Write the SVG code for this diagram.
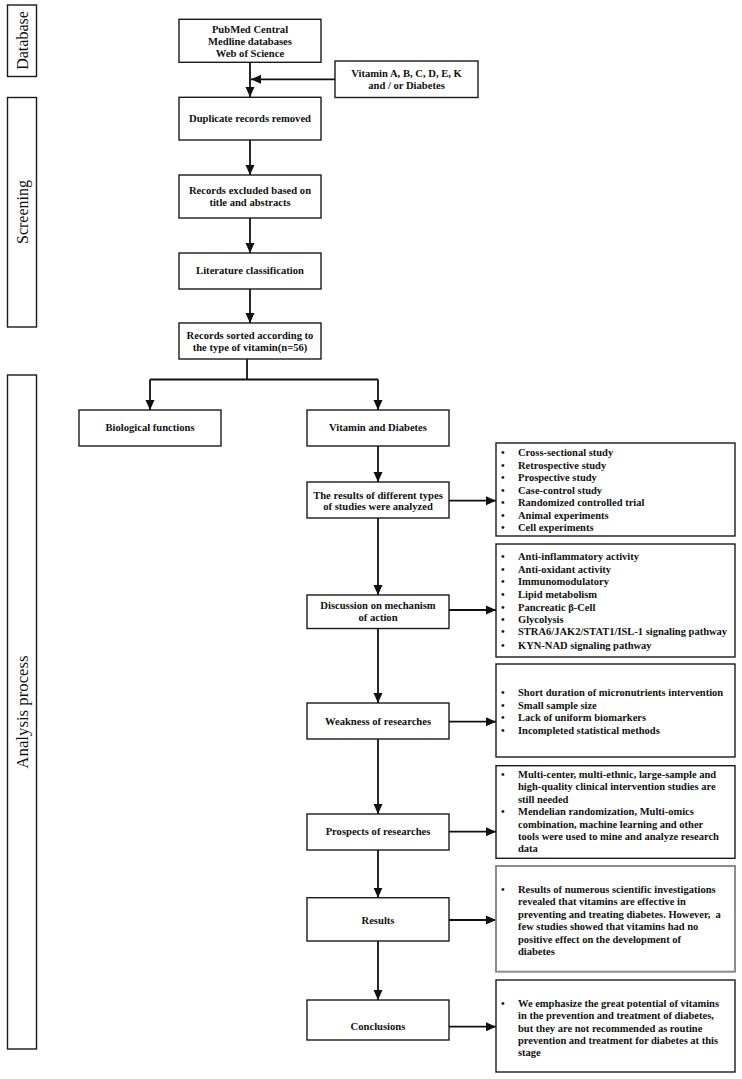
<svg xmlns="http://www.w3.org/2000/svg" width="742" height="1079" viewBox="0 0 742 1079">
<style>
.bg{fill:#ffffff}
.box{fill:#ffffff;stroke:#1a1a1a;stroke-width:1.4}
.gbox{fill:#ffffff;stroke:#8c8c8c;stroke-width:2}
.lab{font-family:"Liberation Serif","Times New Roman",serif;font-size:16px;fill:#111}
.t{font-family:"Liberation Serif","Times New Roman",serif;font-size:10.6px;font-weight:bold;fill:#111;text-anchor:middle}
.l{font-family:"Liberation Serif","Times New Roman",serif;font-size:10.5px;font-weight:bold;fill:#111}
.c{fill:none;stroke:#111;stroke-width:1.8}
</style>
<defs>
<marker id="ah" markerUnits="userSpaceOnUse" markerWidth="10" markerHeight="10" viewBox="0 0 10 10" refX="10" refY="5" orient="auto">
<path d="M0,0.5 L10,5 L0,9.5 Z" fill="#111"/>
</marker>
</defs>
<rect class="bg" x="0" y="0" width="742" height="1079"/>

<g id="stage-database">
<rect class="box" x="7.5" y="5" width="29" height="71.5"/>
<text class="lab" transform="translate(27.5,40.5) rotate(-90)" text-anchor="middle">Database</text>
</g>
<g id="stage-screening">
<rect class="box" x="7.5" y="97.5" width="29" height="229.5"/>
<text class="lab" transform="translate(27.5,212) rotate(-90)" text-anchor="middle">Screening</text>
</g>
<g id="stage-analysis">
<rect class="box" x="7.5" y="375" width="29" height="674"/>
<text class="lab" style="font-size:16.8px" transform="translate(27.5,712) rotate(-90)" text-anchor="middle">Analysis process</text>
</g>

<g id="connectors">
<path class="c" d="M250,62.5 V97" marker-end="url(#ah)"/>
<path class="c" d="M335,79.3 H251" marker-end="url(#ah)"/>
<path class="c" d="M250,140 V175" marker-end="url(#ah)"/>
<path class="c" d="M250,218 V253" marker-end="url(#ah)"/>
<path class="c" d="M250,289 V323" marker-end="url(#ah)"/>
<path class="c" d="M247,359 V379.5"/>
<path class="c" d="M150,379.5 H378"/>
<path class="c" d="M150,379.5 V410" marker-end="url(#ah)"/>
<path class="c" d="M378,379.5 V410" marker-end="url(#ah)"/>
<path class="c" d="M378,446 V482" marker-end="url(#ah)"/>
<path class="c" d="M449,500.7 H496" marker-end="url(#ah)"/>
<path class="c" d="M378,518 V595" marker-end="url(#ah)"/>
<path class="c" d="M449,610 H496" marker-end="url(#ah)"/>
<path class="c" d="M378,628 V703" marker-end="url(#ah)"/>
<path class="c" d="M449,721.7 H496" marker-end="url(#ah)"/>
<path class="c" d="M378,739 V814" marker-end="url(#ah)"/>
<path class="c" d="M449,831.7 H496" marker-end="url(#ah)"/>
<path class="c" d="M378,850 V897.7" marker-end="url(#ah)"/>
<path class="c" d="M449,920 H496" marker-end="url(#ah)"/>
<path class="c" d="M378,941 V1000" marker-end="url(#ah)"/>
<path class="c" d="M449,1026.7 H496" marker-end="url(#ah)"/>
</g>

<g id="n-databases">
<rect class="box" x="179" y="19.3" width="142" height="43"/>
<text class="t" x="250" y="33">PubMed Central</text>
<text class="t" x="250" y="45.3">Medline databases</text>
<text class="t" x="250" y="57">Web of Science</text>
</g>
<g id="n-keywords">
<rect class="box" x="335" y="61" width="143" height="36.5"/>
<text class="t" x="406.5" y="77">Vitamin A, B, C, D, E, K</text>
<text class="t" x="406.5" y="89.3">and / or Diabetes</text>
</g>
<g id="n-duplicate">
<rect class="box" x="179" y="97.3" width="142" height="42.7"/>
<text class="t" x="250" y="122">Duplicate records removed</text>
</g>
<g id="n-excluded">
<rect class="box" x="179" y="175" width="142" height="43"/>
<text class="t" x="250" y="193.7">Records excluded based on</text>
<text class="t" x="250" y="206">title and abstracts</text>
</g>
<g id="n-classification">
<rect class="box" x="179" y="253" width="142" height="36"/>
<text class="t" x="250" y="273.7">Literature classification</text>
</g>
<g id="n-sorted">
<rect class="box" x="179" y="323" width="142" height="36"/>
<text class="t" x="250" y="339.4">Records sorted according to</text>
<text class="t" x="250" y="351.4">the type of vitamin(n=56)</text>
</g>
<g id="n-biological">
<rect class="box" x="79" y="410" width="142" height="36"/>
<text class="t" x="150" y="431.4">Biological functions</text>
</g>
<g id="n-vitdiab">
<rect class="box" x="307" y="410" width="142" height="36"/>
<text class="t" x="378" y="431.4">Vitamin and Diabetes</text>
</g>
<g id="n-studies">
<rect class="box" x="307" y="482" width="142" height="36"/>
<text class="t" x="378" y="498.7">The results of different types</text>
<text class="t" x="378" y="510.4">of studies were analyzed</text>
</g>
<g id="n-mechanism">
<rect class="box" x="307" y="595" width="142" height="33.5"/>
<text class="t" x="378" y="608.7">Discussion on mechanism</text>
<text class="t" x="378" y="621.4">of action</text>
</g>
<g id="n-weakness">
<rect class="box" x="307" y="703" width="142" height="36"/>
<text class="t" x="378" y="725.4">Weakness of researches</text>
</g>
<g id="n-prospects">
<rect class="box" x="307" y="814" width="142" height="36"/>
<text class="t" x="378" y="835.4">Prospects of researches</text>
</g>
<g id="n-results">
<rect class="box" x="307" y="897.7" width="142" height="43.3"/>
<text class="t" x="378" y="923.7">Results</text>
</g>
<g id="n-conclusions">
<rect class="box" x="307" y="1000" width="142" height="40"/>
<text class="t" x="378" y="1030.4">Conclusions</text>
</g>

<g id="list-studies">
<rect class="box" x="496" y="443" width="239" height="93"/>
<text class="l" x="501" y="456">•</text><text class="l" x="518" y="456">Cross-sectional study</text>
<text class="l" x="501" y="468.7">•</text><text class="l" x="518" y="468.7">Retrospective study</text>
<text class="l" x="501" y="481">•</text><text class="l" x="518" y="481">Prospective study</text>
<text class="l" x="501" y="493.7">•</text><text class="l" x="518" y="493.7">Case-control study</text>
<text class="l" x="501" y="506">•</text><text class="l" x="518" y="506">Randomized controlled trial</text>
<text class="l" x="501" y="518.7">•</text><text class="l" x="518" y="518.7">Animal experiments</text>
<text class="l" x="501" y="531.4">•</text><text class="l" x="518" y="531.4">Cell experiments</text>
</g>
<g id="list-mechanism">
<rect class="box" x="496" y="544" width="239" height="113"/>
<text class="l" x="501" y="560.4">•</text><text class="l" x="518" y="560.4">Anti-inflammatory activity</text>
<text class="l" x="501" y="573">•</text><text class="l" x="518" y="573">Anti-oxidant activity</text>
<text class="l" x="501" y="585.4">•</text><text class="l" x="518" y="585.4">Immunomodulatory</text>
<text class="l" x="501" y="598">•</text><text class="l" x="518" y="598">Lipid metabolism</text>
<text class="l" x="501" y="611">•</text><text class="l" x="518" y="611">Pancreatic β-Cell</text>
<text class="l" x="501" y="622.7">•</text><text class="l" x="518" y="622.7">Glycolysis</text>
<text class="l" x="501" y="635.4">•</text><text class="l" x="518" y="635.4">STRA6/JAK2/STAT1/ISL-1 signaling pathway</text>
<text class="l" x="501" y="648.7">•</text><text class="l" x="518" y="648.7">KYN-NAD signaling pathway</text>
</g>
<g id="list-weakness">
<rect class="box" x="496" y="664" width="239" height="93"/>
<text class="l" x="501" y="696">•</text><text class="l" x="518" y="696">Short duration of micronutrients intervention</text>
<text class="l" x="501" y="708.7">•</text><text class="l" x="518" y="708.7">Small sample size</text>
<text class="l" x="501" y="721">•</text><text class="l" x="518" y="721">Lack of uniform biomarkers</text>
<text class="l" x="501" y="733.7">•</text><text class="l" x="518" y="733.7">Incompleted statistical methods</text>
</g>
<g id="list-prospects">
<rect class="box" x="496" y="765.7" width="239" height="92.6"/>
<text class="l" x="501" y="778">•</text><text class="l" x="518" y="778">Multi-center, multi-ethnic, large-sample and</text>
<text class="l" x="518" y="790.4">high-quality clinical intervention studies are</text>
<text class="l" x="518" y="803">still needed</text>
<text class="l" x="501" y="815.4">•</text><text class="l" x="518" y="815.4">Mendelian randomization, Multi-omics</text>
<text class="l" x="518" y="827.7">combination, machine learning and other</text>
<text class="l" x="518" y="840.4">tools were used to mine and analyze research</text>
<text class="l" x="518" y="852">data</text>
</g>
<g id="list-results">
<rect class="gbox" x="496" y="866" width="239" height="105.7"/>
<text class="l" x="501" y="893">•</text><text class="l" x="518" y="893">Results of numerous scientific investigations</text>
<text class="l" x="518" y="905.4">revealed that vitamins are effective in</text>
<text class="l" x="518" y="918" xml:space="preserve">preventing and treating diabetes. However,  a</text>
<text class="l" x="518" y="930.4">few studies showed that vitamins had no</text>
<text class="l" x="518" y="943">positive effect on the development of</text>
<text class="l" x="518" y="954.7">diabetes</text>
</g>
<g id="list-conclusions">
<rect class="box" x="496" y="980" width="239" height="92"/>
<text class="l" x="501" y="1007">•</text><text class="l" x="518" y="1007">We emphasize the great potential of vitamins</text>
<text class="l" x="518" y="1019.4">in the prevention and treatment of diabetes,</text>
<text class="l" x="518" y="1032">but they are not recommended as routine</text>
<text class="l" x="518" y="1043.7">prevention and treatment for diabetes at this</text>
<text class="l" x="518" y="1056">stage</text>
</g>
</svg>
